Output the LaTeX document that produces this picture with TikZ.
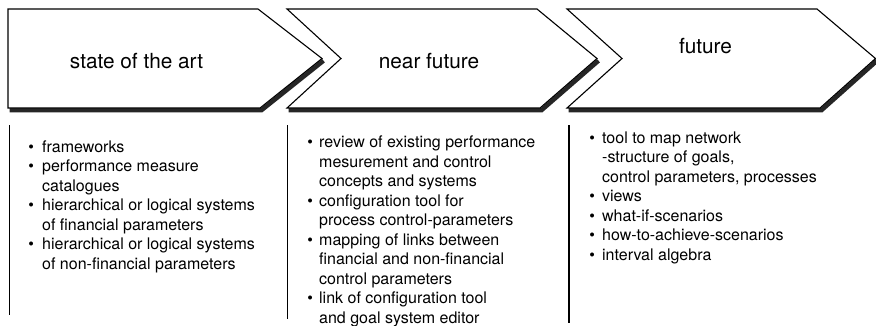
\documentclass[tikz,border=0pt]{standalone}
\usepackage{fontspec}
\setmainfont{TeX Gyre Heros}

% bullet line: the dot hangs left of the text start, #1 = gap in pt
\newcommand\bul[2]{\hbox{\llap{\textbullet\hskip#1pt}#2}}
% continuation line of a bullet point
\newcommand\cnt[1]{\hbox{#1}}

\tikzset{
  phase/.style={draw=black, line width=1.1pt, fill=white, line join=miter},
  phaseshadow/.style={draw=black!85, line width=4.4pt, line join=miter, line cap=butt},
  divider/.style={draw=black, line width=1.2pt},
  heading/.style={anchor=base, inner sep=0pt, font=\fontsize{20.8}{24}\selectfont},
  column/.style={anchor=base west, inner sep=0pt, font=\fontsize{16}{19.5}\selectfont},
}

\begin{document}
\begin{tikzpicture}[x=1pt, y=-1pt]
  \useasboundingbox (0,0) rectangle (876,325);

  % drop shadows under the lower edges of the three phase arrows
  \begin{scope}[shift={(1.5,2.2)}]
    \draw[phaseshadow] (8,108) -- (260,108) -- (322,58.5);
    \draw[phaseshadow] (287,108) -- (540,108) -- (597,58.5);
    \draw[phaseshadow] (567,108) -- (820,108) -- (875.5,58.5);
  \end{scope}

  % phase arrows
  \draw[phase] (8,9) -- (258,9) -- (322,58.5) -- (260,108) -- (8,108) -- cycle;
  \draw[phase] (287,9) -- (537,9) -- (597,58.5) -- (540,108) -- (287,108) -- (341,58.5) -- cycle;
  \draw[phase] (567,9) -- (817,9) -- (875.5,58.5) -- (820,108) -- (567,108) -- (622,58.5) -- cycle;

  % phase titles
  \node[heading] (h1) at (136.5,68) {state of the art};
  \node[heading] (h2) at (429,68) {near future};
  \node[heading] (h3) at (705.5,53) {future};

  % column dividers
  \draw[divider] (9.5,125) -- (9.5,315);
  \draw[divider] (287.5,125) -- (287.5,319);
  \draw[divider] (569,125) -- (569,323);

  % column contents
  \node[column] (c1) at (42,152) {\vtop{\baselineskip=19.5pt
    \bul{8.2}{frameworks}
    \bul{8.2}{performance measure}
    \cnt{catalogues}
    \bul{8.2}{hierarchical or logical systems}
    \cnt{of financial parameters}
    \bul{8.2}{hierarchical or logical systems}
    \cnt{of non-financial parameters}}};

  \node[column] (c2) at (319,147.7) {\vtop{\baselineskip=19.5pt
    \bul{6.2}{review of existing performance}
    \cnt{mesurement and control}
    \cnt{concepts and systems}
    \bul{6.2}{configuration tool for}
    \cnt{process control-parameters}
    \bul{6.2}{mapping of links between}
    \cnt{financial and non-financial}
    \cnt{control parameters}
    \bul{6.2}{link of configuration tool}
    \cnt{and goal system editor}}};

  \node[column] (c3) at (602,143) {\vtop{\baselineskip=19.5pt
    \bul{7.2}{tool to map network}
    \cnt{-structure of goals,}
    \cnt{control parameters, processes}
    \bul{7.2}{views}
    \bul{7.2}{what-if-scenarios}
    \bul{7.2}{how-to-achieve-scenarios}
    \bul{7.2}{interval algebra}}};
\end{tikzpicture}
\end{document}
